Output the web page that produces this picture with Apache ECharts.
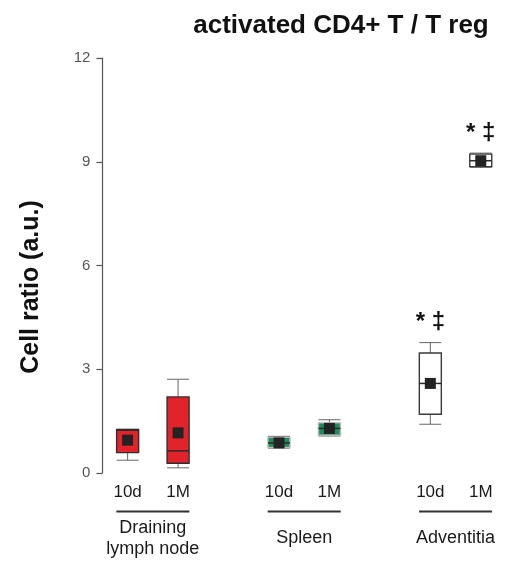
<!DOCTYPE html>
<html>
<head>
<meta charset="utf-8">
<script src="https://cdn.jsdelivr.net/npm/echarts@6/dist/echarts.min.js"></script>
<style>html,body{margin:0;padding:0;background:#fff}#c{width:506px;height:569px}</style>
</head>
<body>
<div id="c"></div>
<script>
const categories = ['10d', '1M', '', '10d', '1M', '', '10d', '1M'];
const boxIndex = [0, 1, 3, 4, 6, 7];
const mins    = [0.37, 0.15, 0.72, 1.07, 1.41, 8.84];
const q1s     = [0.59, 0.28, 0.74, 1.09, 1.70, 8.86];
const medians = [1.24, 0.64, 0.87, 1.29, 2.59, 9.03];
const q3s     = [1.26, 2.20, 1.03, 1.45, 3.47, 9.22];
const maxs    = [1.26, 2.71, 1.06, 1.54, 3.77, 9.25];
const means   = [0.95, 1.16, 0.87, 1.29, 2.59, 9.03];
const groupOf = [0, 0, 1, 1, 2, 2];
const annotations = ['', '', '', '', '* \u2021', '* \u2021'];
const groups = ['Draining\nlymph node', 'Spleen', 'Adventitia'];
const groupStart = [0, 3, 6];
const groupEnd = [1, 4, 7];
const yTicks = [0, 3, 6, 9, 12];

const groupFill = ['#e3232b', '#1f8c5d', '#ffffff'];
const groupBorder = ['#2f2f2f', '#b8b8b8', '#3a3a3a'];
const FONT = 'Liberation Sans, Arial, Helvetica, sans-serif';

const boxData = boxIndex.map((x, i) => [x, mins[i], q1s[i], medians[i], q3s[i], maxs[i], means[i], groupOf[i], i]);
const groupData = groups.map((g, i) => [groupStart[i], groupEnd[i], i]);

const chart = echarts.init(document.getElementById('c'), null, {renderer: 'canvas'});

function renderBox(params, api) {
  const x = api.value(0);
  const idx = api.value(8);
  const g = api.value(7);
  const pMin = api.coord([x, api.value(1)]);
  const pQ1 = api.coord([x, api.value(2)]);
  const pMed = api.coord([x, api.value(3)]);
  const pQ3 = api.coord([x, api.value(4)]);
  const pMax = api.coord([x, api.value(5)]);
  const pMean = api.coord([x, api.value(6)]);
  const cx = pMin[0];
  const hw = 11;
  const sq = 11;
  const whisk = {stroke: '#666', lineWidth: 1};
  const children = [
    {type: 'line', shape: {x1: cx, y1: pMin[1], x2: cx, y2: pQ1[1]}, style: whisk},
    {type: 'line', shape: {x1: cx, y1: pQ3[1], x2: cx, y2: pMax[1]}, style: whisk},
    {type: 'line', shape: {x1: cx - hw, y1: pMin[1], x2: cx + hw, y2: pMin[1]}, style: whisk},
    {type: 'line', shape: {x1: cx - hw, y1: pMax[1], x2: cx + hw, y2: pMax[1]}, style: whisk},
    {type: 'rect', shape: {x: cx - hw, y: pQ3[1], width: hw * 2, height: pQ1[1] - pQ3[1]},
      style: {fill: groupFill[g], stroke: groupBorder[g], lineWidth: 1.4}},
    {type: 'line', shape: {x1: cx - hw, y1: pMed[1], x2: cx + hw, y2: pMed[1]},
      style: {stroke: '#2a2a2a', lineWidth: 1.5}},
    {type: 'rect', shape: {x: cx - sq / 2, y: pMean[1] - sq / 2, width: sq, height: sq},
      style: {fill: '#232323'}}
  ];
  const ann = annotations[idx];
  if (ann) {
    children.push({type: 'text', x: cx, y: pMax[1] - 20,
      style: {text: ann, align: 'center', verticalAlign: 'middle',
        font: 'bold 24px ' + FONT, fill: '#111'}});
  }
  return {type: 'group', children: children};
}

function renderGroup(params, api) {
  const a = api.coord([api.value(0), 0]);
  const b = api.coord([api.value(1), 0]);
  const cx = (a[0] + b[0]) / 2;
  const y = a[1] + 38.5;
  const gi = api.value(2);
  return {type: 'group', children: [
    {type: 'line', shape: {x1: cx - 36.5, y1: y, x2: cx + 36.5, y2: y},
      style: {stroke: '#333', lineWidth: 2}},
    {type: 'text', x: cx, y: y + 27,
      style: {text: groups[gi], align: 'center', verticalAlign: 'middle',
        font: '18px ' + FONT, fill: '#1a1a1a', lineHeight: 21}}
  ]};
}

chart.setOption({
  animation: false,
  backgroundColor: '#ffffff',
  title: {
    text: 'activated CD4+ T / T reg',
    left: 336, top: 8, textAlign: 'center',
    textStyle: {fontFamily: FONT, fontWeight: 'bold', fontSize: 26, color: '#111'}
  },
  graphic: [{
    type: 'text', x: 31, y: 287, rotation: Math.PI / 2,
    style: {text: 'Cell ratio (a.u.)', align: 'center', verticalAlign: 'middle',
      font: 'bold 25px ' + FONT, fill: '#111'}
  }],
  grid: {left: 102.4, top: 58, width: 409.6, bottom: 96, containLabel: false},
  xAxis: {
    type: 'category', data: categories, boundaryGap: true,
    axisLine: {show: false}, axisTick: {show: false}, splitLine: {show: false},
    axisLabel: {interval: 0, margin: 11, fontFamily: FONT, fontSize: 17, color: '#1a1a1a'}
  },
  yAxis: {
    type: 'value', min: 0, max: 12, interval: 3,
    axisLine: {show: true, lineStyle: {color: '#555', width: 1.2}},
    axisTick: {show: true, length: 6, lineStyle: {color: '#555', width: 1.2}},
    splitLine: {show: false},
    axisLabel: {margin: 12, fontFamily: FONT, fontSize: 15, color: '#555',
      formatter: v => (yTicks.indexOf(v) >= 0 ? String(v) : '')}
  },
  series: [
    {type: 'custom', name: 'boxes', clip: false, renderItem: renderBox, data: boxData,
      encode: {x: 0, y: [1, 2, 3, 4, 5]}, z: 3},
    {type: 'custom', name: 'groups', clip: false, renderItem: renderGroup, data: groupData,
      encode: {x: [0, 1]}, z: 2}
  ]
});
</script>
</body>
</html>
